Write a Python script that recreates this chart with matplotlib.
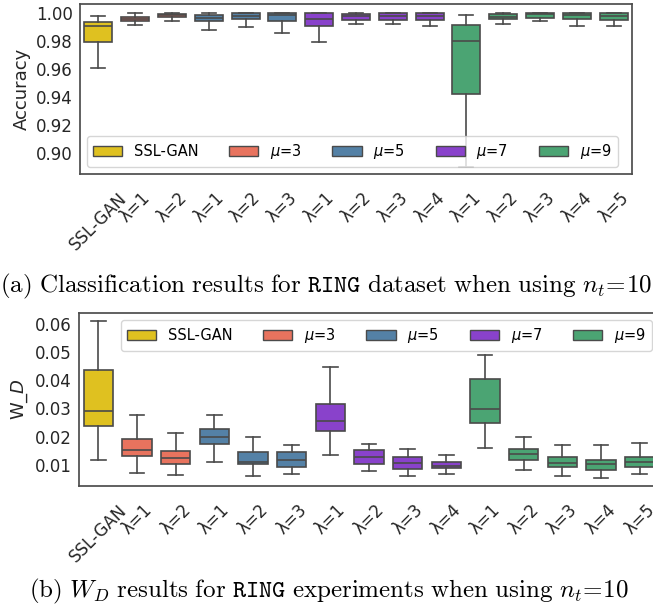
import colorsys
import numpy as np
import matplotlib
matplotlib.use("Agg")
import matplotlib.pyplot as plt
import matplotlib.colors as mcolors
from matplotlib.patches import Patch

# x labels (same for both panels)
tick_labels = ["SSL-GAN", "λ=1", "λ=2", "λ=1", "λ=2", "λ=3",
               "λ=1", "λ=2", "λ=3", "λ=4",
               "λ=1", "λ=2", "λ=3", "λ=4", "λ=5"]
groups = ["SSL-GAN", "$\\mu$=3", "$\\mu$=5", "$\\mu$=7", "$\\mu$=9"]
group_of_box = [0, 1, 1, 2, 2, 2, 3, 3, 3, 3, 4, 4, 4, 4, 4]
base_colors = ["gold", "tomato", "steelblue", "blueviolet", "mediumseagreen"]

# accuracy: whislo, q1, median, q3, whishi
acc_lo  = [0.9607, 0.9912, 0.9938, 0.9874, 0.9898, 0.9855, 0.9788, 0.9917, 0.9917, 0.9907, 0.8895, 0.9917, 0.9938, 0.9907, 0.9907]
acc_q1  = [0.9793, 0.9938, 0.9967, 0.9938, 0.9957, 0.9938, 0.9902, 0.9945, 0.9950, 0.9950, 0.9421, 0.9952, 0.9960, 0.9955, 0.9945]
acc_med = [0.9902, 0.9955, 0.9980, 0.9960, 0.9976, 0.9980, 0.9952, 0.9976, 0.9979, 0.9979, 0.9795, 0.9971, 0.9990, 0.9980, 0.9976]
acc_q3  = [0.9931, 0.9967, 0.9993, 0.9980, 0.9998, 0.9998, 0.9995, 0.9993, 0.9995, 0.9995, 0.9910, 0.9988, 0.9998, 0.9995, 0.9995]
acc_hi  = [0.9976, 1.0000, 1.0000, 1.0000, 1.0000, 1.0000, 1.0000, 1.0000, 1.0000, 1.0000, 0.9983, 1.0000, 1.0000, 1.0000, 1.0000]

# W_D
wd_lo  = [0.0118, 0.0071, 0.0063, 0.0108, 0.0058, 0.0066, 0.0133, 0.0078, 0.0058, 0.0068, 0.0161, 0.0080, 0.0061, 0.0051, 0.0068]
wd_q1  = [0.0239, 0.0132, 0.0104, 0.0174, 0.0104, 0.0093, 0.0220, 0.0104, 0.0086, 0.0088, 0.0248, 0.0118, 0.0093, 0.0081, 0.0091]
wd_med = [0.0290, 0.0152, 0.0125, 0.0200, 0.0110, 0.0117, 0.0254, 0.0126, 0.0106, 0.0096, 0.0297, 0.0138, 0.0105, 0.0101, 0.0108]
wd_q3  = [0.0438, 0.0190, 0.0150, 0.0227, 0.0145, 0.0145, 0.0317, 0.0152, 0.0126, 0.0108, 0.0405, 0.0157, 0.0128, 0.0115, 0.0128]
wd_hi  = [0.0611, 0.0278, 0.0214, 0.0278, 0.0200, 0.0171, 0.0447, 0.0174, 0.0157, 0.0133, 0.0492, 0.0199, 0.0171, 0.0169, 0.0176]


def desat(name, prop=0.75):
    r, g, b = mcolors.to_rgb(name)
    h, l, s = colorsys.rgb_to_hls(r, g, b)
    return colorsys.hls_to_rgb(h, l, s * prop)


colors = [desat(c) for c in base_colors]
edge = "#4a4a4a"

plt.rcParams["font.family"] = "DejaVu Sans"
plt.rcParams["mathtext.fontset"] = "dejavusans"

fig = plt.figure(figsize=(6.53, 6.14), dpi=100)
W, H = 653, 614


def px_axes(l, t, r, b):
    return fig.add_axes([l / W, 1 - b / H, (r - l) / W, (b - t) / H])


def draw(ax, lo, q1, med, q3, hi):
    n = len(lo)
    stats = [dict(whislo=lo[i], q1=q1[i], med=med[i], q3=q3[i], whishi=hi[i], fliers=[])
             for i in range(n)]
    bp = ax.bxp(stats, positions=np.arange(n), widths=0.76, patch_artist=True,
                showfliers=False,
                boxprops=dict(edgecolor=edge, linewidth=1.2),
                medianprops=dict(color=edge, linewidth=1.2),
                whiskerprops=dict(color=edge, linewidth=1.2),
                capprops=dict(color=edge, linewidth=1.2))
    for i, box in enumerate(bp["boxes"]):
        box.set_facecolor(colors[group_of_box[i]])
    ax.set_xlim(-0.5, n - 0.5)
    ax.set_xticks(np.arange(n))
    ax.set_xticklabels(tick_labels, rotation=45, fontsize=12, color="0.15")
    ax.tick_params(axis="x", length=0, pad=11, labelcolor="0.15")
    ax.tick_params(axis="y", length=0, pad=5, labelsize=12, labelcolor="0.15")
    for sp in ax.spines.values():
        sp.set_color("0.3")
        sp.set_linewidth(1.25)


handles = [Patch(facecolor=colors[k], edgecolor=edge, linewidth=1.0, label=groups[k])
           for k in range(len(groups))]

ax1 = px_axes(80, 4, 632, 174)
draw(ax1, acc_lo, acc_q1, acc_med, acc_q3, acc_hi)
ax1.set_ylim(0.8848, 1.0062)
ax1.set_yticks([0.90, 0.92, 0.94, 0.96, 0.98, 1.00])
ax1.set_yticklabels(["0.90", "0.92", "0.94", "0.96", "0.98", "1.00"])
ax1.set_ylabel("Accuracy", fontsize=13, color="0.15")
ax1.legend(handles=handles, loc="lower left", ncol=5, fontsize=10.5,
           columnspacing=2.1, handlelength=2.0)

ax2 = px_axes(79, 313, 659, 486)
draw(ax2, wd_lo, wd_q1, wd_med, wd_q3, wd_hi)
ax2.set_ylim(0.0024, 0.064)
ax2.set_yticks([0.01, 0.02, 0.03, 0.04, 0.05, 0.06])
ax2.set_yticklabels(["0.01", "0.02", "0.03", "0.04", "0.05", "0.06"])
ax2.set_ylabel("W_$D$", fontsize=13, color="0.15")
ax2.legend(handles=handles, loc="upper right", ncol=5, fontsize=10.5,
           columnspacing=2.1, handlelength=2.0)

cap_a = (r"$\mathrm{(a)\ Classification\ results\ for\ }\mathtt{RING}"
         r"\mathrm{\ dataset\ when\ using\ }n_t\!=\!10$")
cap_b = (r"$\mathrm{(b)\ }W_D\mathrm{\ results\ for\ }\mathtt{RING}"
         r"\mathrm{\ experiments\ when\ using\ }n_t\!=\!10$")
fig.text(326 / W, 1 - 286 / H, cap_a, ha="center", va="center", fontsize=18,
         math_fontfamily="cm", color="black")
fig.text(329 / W, 1 - 591 / H, cap_b, ha="center", va="center", fontsize=18,
         math_fontfamily="cm", color="black")

fig.savefig("out.png", dpi=100)
